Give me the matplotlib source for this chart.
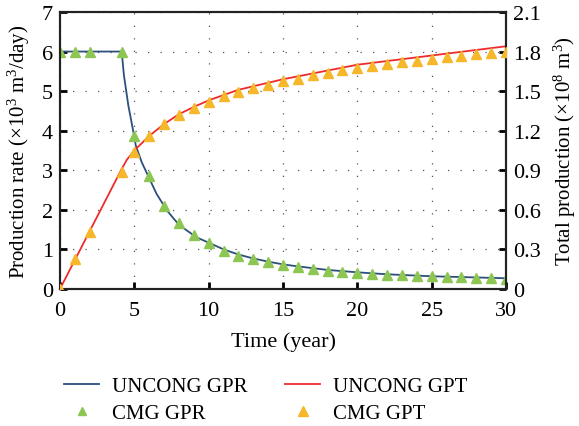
import matplotlib
matplotlib.use('Agg')
import matplotlib.pyplot as plt

plt.rcParams['font.family'] = ['Liberation Serif', 'DejaVu Serif']
plt.rcParams['mathtext.fontset'] = 'custom'
plt.rcParams['mathtext.rm'] = 'Liberation Serif'
plt.rcParams['mathtext.it'] = 'Liberation Serif:italic'

# UNCONG GPR line (x1e3 m3/day)
gpr_line_t = [0, 4.15, 4.3, 4.6, 4.9, 5.1, 5.5, 6, 6.5, 7.2, 8, 9.2, 10, 11, 12,
              13, 14, 15, 16, 18, 20, 22, 25, 28, 30]
gpr_line = [6.0, 6.0, 5.4, 4.63, 4.04, 3.62, 3.2, 2.8, 2.4, 1.98, 1.62, 1.3, 1.17,
            1.0, 0.87, 0.77, 0.69, 0.62, 0.57, 0.48, 0.42, 0.37, 0.32, 0.29, 0.27]

# UNCONG GPT line (x1e8 m3)
gpt_line_t = [0, 4.15, 4.5, 5, 6, 7, 8, 9, 10, 12, 15, 20, 25, 30]
gpt_line = [0, 0.91, 0.98, 1.05, 1.16, 1.25, 1.325, 1.38, 1.43, 1.51, 1.59, 1.70,
            1.77, 1.84]

# CMG simulated points
cmg_t = [0, 1, 2, 4.2, 5, 6, 7, 8, 9, 10, 11, 12, 13, 14, 15, 16, 17, 18, 19, 20,
         21, 22, 23, 24, 25, 26, 27, 28, 29, 30]
cmg_gpr = [6.0, 6.0, 6.0, 6.0, 3.87, 2.85, 2.1, 1.67, 1.37, 1.16, 0.97, 0.84, 0.76,
           0.67, 0.61, 0.56, 0.5, 0.46, 0.44, 0.41, 0.38, 0.36, 0.35, 0.33, 0.32,
           0.30, 0.29, 0.28, 0.27, 0.26]
cmg_gpt = [0, 0.227, 0.43, 0.884, 1.04, 1.157, 1.25, 1.318, 1.373, 1.414, 1.464,
           1.495, 1.525, 1.545, 1.573, 1.59, 1.62, 1.64, 1.659, 1.672, 1.692, 1.707,
           1.722, 1.73, 1.74, 1.757, 1.767, 1.78, 1.79, 1.80]

left_ticks = [0, 1, 2, 3, 4, 5, 6, 7]
right_ticks = [0, 0.3, 0.6, 0.9, 1.2, 1.5, 1.8, 2.1]
right_labels = ['0', '0.3', '0.6', '0.9', '1.2', '1.5', '1.8', '2.1']
x_ticks = [0, 5, 10, 15, 20, 25, 30]

blue = '#2c4f7e'
red = '#ee2b2b'
green = '#8dc653'
orange = '#f7b72a'

fig = plt.figure(figsize=(5.79, 4.27), dpi=100)
ax = fig.add_axes([0.1036, 0.321, 0.7704, 0.6486])
ax2 = ax.twinx()

l1, = ax.plot(gpr_line_t, gpr_line, color=blue, lw=1.3, label='UNCONG GPR')
l2, = ax2.plot(gpt_line_t, gpt_line, color=red, lw=1.3, label='UNCONG GPT')
m1, = ax.plot(cmg_t, cmg_gpr, ls='none', marker='^', ms=6.8, color=green,
              label='CMG GPR', zorder=5)
m2, = ax2.plot(cmg_t, cmg_gpt, ls='none', marker='^', ms=7.8, color=orange,
               label='CMG GPT', zorder=5)

ax.set_xlim(0, 30)
ax.set_ylim(0, 7)
ax2.set_ylim(0, 2.1)
ax.set_xticks(x_ticks)
ax.set_yticks(left_ticks)
ax2.set_yticks(right_ticks)
ax2.set_yticklabels(right_labels)

ax.grid(True, color='#555555', ls=(0, (1, 9)), lw=0.9)

for a in (ax, ax2):
    a.tick_params(direction='in', length=5, width=2, labelsize=16, pad=5)
    for s in a.spines.values():
        s.set_linewidth(1.5)
        s.set_color('#222222')
ax.tick_params(axis='x', pad=9)

ax.set_xlabel('Time (year)', fontsize=16, labelpad=8)
ax.set_ylabel(r'Production rate ($\times$10$^3$ m$^3$/day)', fontsize=15, labelpad=7)
ax2.set_ylabel(r'Total production ($\times$10$^8$ m$^3$)', fontsize=15, labelpad=8)

fig.legend([l1, m1, l2, m2], ['UNCONG GPR', 'CMG GPR', 'UNCONG GPT', 'CMG GPT'],
           ncol=2, frameon=False, fontsize=15, loc='upper left',
           bbox_to_anchor=(0.078, 0.16, 0.8, 0.0), bbox_transform=fig.transFigure,
           handlelength=1.7, handletextpad=0.6, columnspacing=1.8,
           labelspacing=0.35, markerscale=0.85)

fig.savefig('out.png', dpi=100)
